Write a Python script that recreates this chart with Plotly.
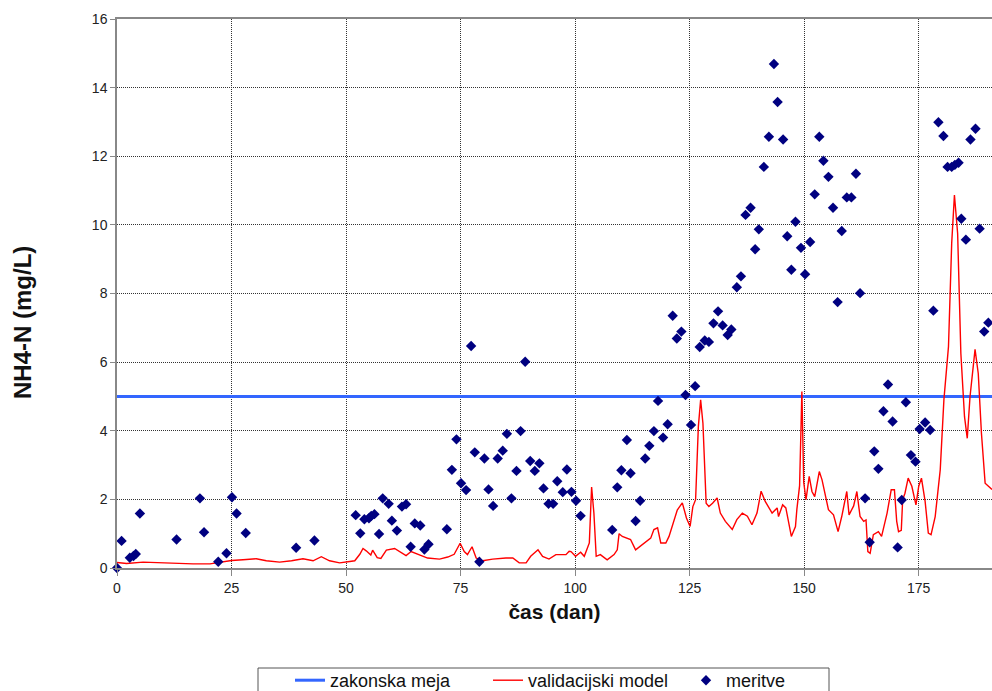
import plotly.graph_objects as go

# ---- data ----
# measurements (meritve)
meas_day = [0, 1.0, 2.8, 3.6, 4.1, 5.0, 13.0, 18.1, 19.0, 22.1, 23.9, 25.1, 26.1, 28.1, 39.1, 43.1,
            52.1, 53.1, 54.0, 55.0, 55.5, 56.2, 57.2, 58.0, 59.3, 60.0, 61.1, 62.2, 63.1, 64.1, 65.0,
            66.2, 67.1, 68.0, 72.0, 73.1, 74.1, 75.1, 76.2, 77.3, 78.1, 79.1, 80.2, 81.1, 82.1, 83.1,
            84.2, 85.1, 86.1, 87.2, 88.1, 89.1, 90.2, 91.2, 92.2, 93.1, 94.2, 95.2, 96.1, 97.3, 98.2,
            99.2, 100.2, 101.2, 108.1, 109.2, 110.1, 111.3, 112.1, 113.2, 114.2, 115.3, 116.2, 117.2,
            118.1, 119.2, 120.2, 121.3, 122.2, 123.2, 124.1, 125.3, 126.2, 127.2, 128.3, 129.2, 130.2,
            131.2, 132.2, 133.3, 134.1, 135.3, 136.2, 137.2, 138.3, 139.3, 140.1, 141.2, 142.3, 143.4,
            144.2, 145.4, 146.3, 147.2, 148.1, 149.3, 150.2, 151.3, 152.3, 153.3, 154.2, 155.3, 156.3,
            157.3, 158.2, 159.3, 160.3, 161.3, 162.2, 163.3, 164.3, 165.3, 166.2, 167.3, 168.3, 169.3,
            170.4, 171.3, 172.2, 173.3, 174.3, 175.2, 176.4, 177.5, 178.2, 179.3, 180.4, 181.3, 182.2,
            182.9, 183.7, 184.3, 185.3, 186.3, 187.4, 188.3, 189.3, 190.2]
meas_val = [0.0, 0.79, 0.30, 0.35, 0.41, 1.59, 0.83, 2.03, 1.04, 0.18, 0.43, 2.06, 1.59, 1.02, 0.59, 0.80,
            1.54, 1.01, 1.42, 1.45, 1.52, 1.57, 0.99, 2.03, 1.87, 1.38, 1.09, 1.79, 1.86, 0.62, 1.30,
            1.24, 0.54, 0.69, 1.13, 2.86, 3.75, 2.47, 2.27, 6.47, 3.37, 0.18, 3.19, 2.29, 1.81, 3.19,
            3.42, 3.91, 2.03, 2.83, 3.99, 6.01, 3.12, 2.83, 3.05, 2.32, 1.87, 1.87, 2.53, 2.21, 2.87,
            2.22, 1.96, 1.52, 1.11, 2.35, 2.85, 3.73, 2.76, 1.37, 1.96, 3.19, 3.56, 3.99,
            4.87, 3.80, 4.19, 7.35, 6.69, 6.89, 5.04, 4.17, 5.30, 6.44, 6.63, 6.59, 7.13,
            7.48, 7.07, 6.79, 6.95, 8.18, 8.50, 10.29, 10.50, 9.29, 9.87, 11.69, 12.57, 14.69,
            13.58, 12.49, 9.67, 8.69, 10.09, 9.33, 8.56, 9.50, 10.89, 12.57, 11.87, 11.40, 10.50,
            7.75, 9.82, 10.80, 10.80, 11.49, 8.01, 2.03, 0.75, 3.40, 2.89, 4.57, 5.35, 4.27,
            0.60, 1.98, 4.83, 3.29, 3.10, 4.05, 4.24, 4.02, 7.50, 12.99, 12.59, 11.69, 11.69,
            11.75, 11.81, 10.18, 9.57, 12.49, 12.80, 9.89, 6.89, 7.15]

# validation model (validacijski model)
model_day = [0, 2.1, 5.7, 9.4, 13.0, 16.6, 20.3, 22.4, 25.0, 27.5, 30.4, 32.6, 35.5, 38.1, 40.6, 42.8,
             44.6, 46.4, 48.6, 50.8, 51.9, 53.0, 53.7, 54.4, 55.0, 55.4, 55.8, 56.8, 57.6, 58.8, 60.6,
             62.0, 63.1, 64.2, 66.0, 67.8, 70.4, 72.2, 73.6, 74.9, 75.8, 76.5, 77.5, 78.4, 79.8, 82.0,
             84.9, 86.4, 87.8, 89.3, 90.3, 91.9, 92.9, 94.3, 95.8, 98.0, 98.7, 99.1, 100.1, 101.2,
             102.0, 103.1, 103.6, 104.1, 104.6, 105.5, 107.0, 108.5, 109.2, 109.6, 110.3, 112.1,
             113.2, 114.2, 115.8, 116.5, 117.2, 118.0, 118.7, 119.8, 120.5, 122.3, 123.4, 124.3,
             125.1, 125.7, 126.3, 126.9, 127.4, 127.9, 128.6, 129.2, 130.0, 131.0, 131.7, 132.8,
             134.3, 135.3, 136.5, 137.6, 138.6, 139.7, 140.6, 141.5, 143.0, 144.1, 144.4, 145.3,
             146.0, 146.6, 147.2, 148.1, 148.4, 149.0, 149.5, 149.9, 150.4, 151.1, 151.7, 152.3,
             153.3, 153.9, 155.3, 156.4, 157.4, 158.2, 159.3, 159.8, 160.8, 161.5, 162.2, 163.0,
             163.5, 163.9, 164.4, 165.1, 166.2, 166.9, 168.1, 169.0, 169.7, 170.2, 170.6, 171.2,
             171.5, 172.0, 172.7, 173.5, 174.4, 175.0, 175.6, 176.4, 177.1, 177.7, 178.6, 179.7,
             180.5, 181.5, 182.2, 182.8, 183.5, 184.2, 185.0, 185.6, 186.2, 187.3, 188.0, 188.7,
             189.5, 191.0]
model_val = [0.16, 0.13, 0.17, 0.15, 0.14, 0.12, 0.12, 0.17, 0.22, 0.24, 0.27, 0.21, 0.17, 0.21, 0.27, 0.21,
             0.33, 0.21, 0.15, 0.19, 0.21, 0.40, 0.57, 0.50, 0.42, 0.38, 0.52, 0.30, 0.28, 0.52, 0.57,
             0.46, 0.36, 0.48, 0.38, 0.29, 0.26, 0.32, 0.40, 0.72, 0.48, 0.39, 0.62, 0.29, 0.21, 0.26,
             0.29, 0.29, 0.15, 0.15, 0.34, 0.53, 0.34, 0.26, 0.39, 0.39, 0.49, 0.48, 0.34, 0.46,
             0.34, 0.73, 2.36, 1.60, 0.34, 0.39, 0.24, 0.39, 0.53, 1.00, 0.92, 0.83,
             0.53, 0.63, 0.78, 0.87, 1.12, 1.17, 0.73, 0.73, 0.92, 1.69, 1.90, 1.46,
             1.21, 1.79, 1.99, 4.12, 4.90, 4.22, 1.89, 1.79, 1.89, 2.04, 1.60, 1.36,
             1.12, 1.41, 1.60, 1.51, 1.26, 1.60, 2.24, 1.94, 1.60, 1.75, 1.50, 1.84,
             1.75, 1.30, 0.92, 1.21, 1.70, 2.40, 5.14, 2.50, 1.99, 2.67, 2.23, 2.08,
             2.81, 2.57, 1.70, 1.55, 1.06, 1.50, 2.23, 1.55, 1.81, 2.23, 1.50, 1.36,
             1.40, 0.48, 0.43, 0.97, 1.06, 0.92, 1.60, 2.28, 2.28, 1.36, 1.06, 1.10,
             1.99, 2.18, 2.62, 2.38, 1.84, 2.38, 2.62, 1.94, 1.02, 0.97, 1.50, 2.86,
             4.90, 6.45, 9.46, 10.87, 9.75, 6.26, 4.41, 3.78, 4.99, 6.37, 5.67, 3.92,
             2.47, 2.29]

# legal limit (zakonska meja)
limit_day = [0, 191]
limit_val = [5.0, 5.0]

x_ticks = [0, 25, 50, 75, 100, 125, 150, 175]
y_ticks = [0, 2, 4, 6, 8, 10, 12, 14, 16]

x_title = "čas (dan)"
y_title = "NH4-N (mg/L)"

FONT = "Liberation Sans, Arial, sans-serif"
W, H = 992, 691
L, R, T, B = 117, 0, 19, 123
PW, PH = W - L - R, H - T - B

fig = go.Figure()
fig.add_trace(go.Scatter(x=limit_day, y=limit_val, mode="lines", name="zakonska meja",
                         line=dict(color="#3366FF", width=3)))
fig.add_trace(go.Scatter(x=model_day, y=model_val, mode="lines", name="validacijski model",
                         line=dict(color="#FF0000", width=1.4)))
fig.add_trace(go.Scatter(x=meas_day, y=meas_val, mode="markers", name="meritve",
                         marker=dict(symbol="diamond", size=8, color="#000080"),
                         cliponaxis=False))

# legend frame
fig.add_shape(type="rect", xref="paper", yref="paper",
              x0=(258 - L) / PW, x1=(829 - L) / PW,
              y0=-0.30, y1=((H - B) - 668) / PH,
              line=dict(color="#555555", width=1), fillcolor="rgba(0,0,0,0)")

# y axis title (as annotation, positioned like the original)
fig.add_annotation(text="<b>" + y_title + "</b>", xref="paper", yref="paper",
                   x=(22 - L) / PW, y=((H - B) - 323) / PH, textangle=-90,
                   showarrow=False, xanchor="center", yanchor="middle",
                   font=dict(size=24, family=FONT, color="#111111"))

fig.update_layout(
    width=W, height=H,
    margin=dict(l=L, r=R, t=T, b=B, autoexpand=False),
    paper_bgcolor="white", plot_bgcolor="white",
    font=dict(family=FONT, color="#222222"),
    showlegend=True,
    legend=dict(orientation="h", xref="container", yref="container",
                x=290 / W, xanchor="left",
                y=(H - 662) / H, yanchor="top",
                font=dict(size=18, family=FONT, color="#111111"),
                entrywidth=153, entrywidthmode="pixels",
                bgcolor="rgba(0,0,0,0)", borderwidth=0),
    xaxis=dict(range=[0, 191], tickvals=x_ticks, ticks="outside", ticklen=6,
               tickcolor="#888888", tickfont=dict(size=14, family=FONT, color="#222222"),
               showline=True, linecolor="#888888", linewidth=1.5, mirror=True,
               showgrid=True, gridcolor="#333333", griddash="1px,1px", gridwidth=1,
               zeroline=False, automargin=False,
               title=dict(text="<b>" + x_title + "</b>",
                          font=dict(size=21, family=FONT, color="#111111"),
                          standoff=10)),
    yaxis=dict(range=[0, 16], tickvals=y_ticks, ticks="outside", ticklen=5,
               tickcolor="#888888", tickfont=dict(size=14, family=FONT, color="#222222"),
               showline=True, linecolor="#888888", linewidth=1.5,
               showgrid=True, gridcolor="#333333", griddash="1px,1px", gridwidth=1,
               zeroline=False, automargin=False),
)

fig.write_html("out.html")
